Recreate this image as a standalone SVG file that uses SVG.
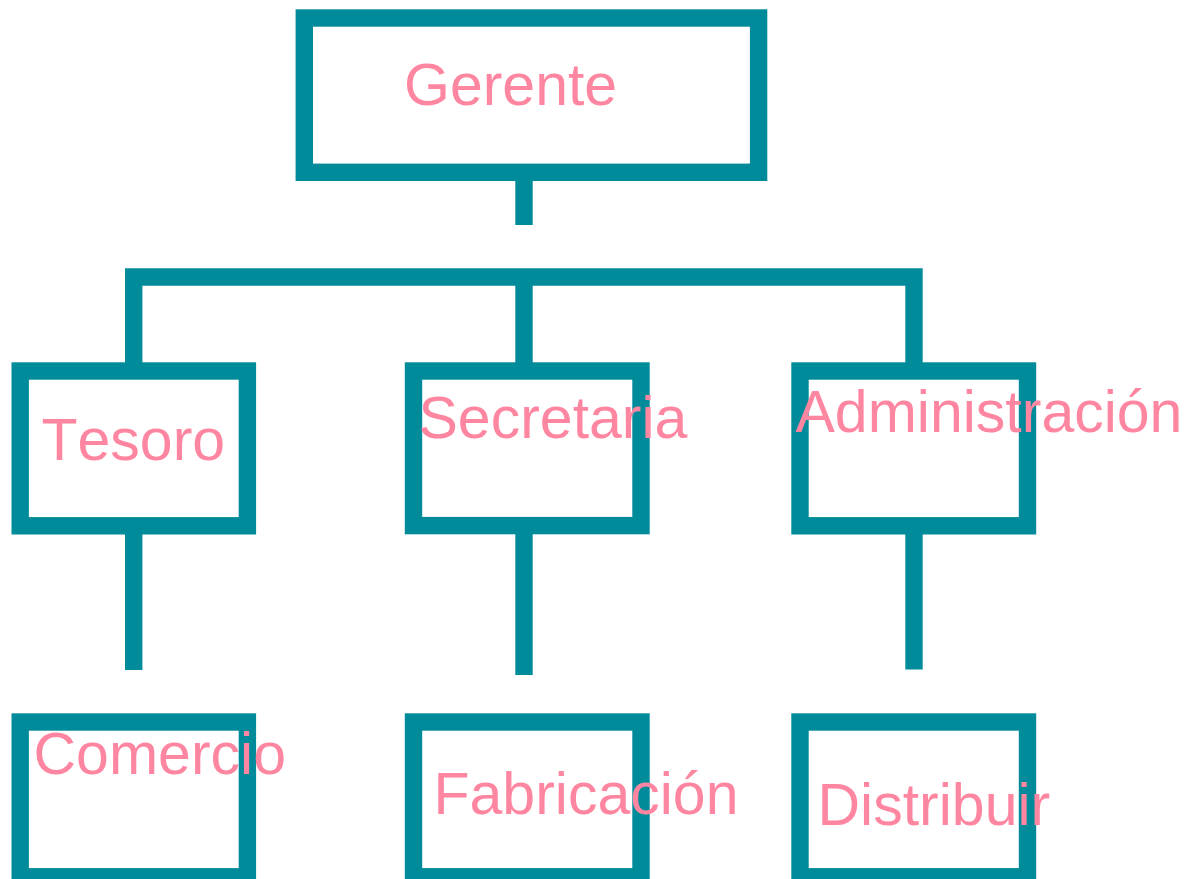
<svg xmlns="http://www.w3.org/2000/svg" width="1194" height="879" viewBox="0 0 1194 879">
<style>
.box{fill:#ffffff;stroke:#008B9B;stroke-width:17.4}
.ln{fill:none;stroke:#008B9B;stroke-width:17.4;stroke-linecap:butt;stroke-linejoin:miter}
.lbl{font-family:"Liberation Sans",Arial,sans-serif;font-size:59px;fill:#FF86A0;font-kerning:none}
</style>
<rect width="1194" height="879" fill="#ffffff"/>
<g id="connectors">
<line class="ln" x1="524" y1="172" x2="524" y2="225"/>
<path class="ln" d="M133.7 371 V277 H914 V371"/>
<line class="ln" x1="524" y1="277" x2="524" y2="371"/>
<line class="ln" x1="133.7" y1="525" x2="133.7" y2="670"/>
<line class="ln" x1="524" y1="525" x2="524" y2="675"/>
<line class="ln" x1="914" y1="525" x2="914" y2="669.5"/>
</g>
<g id="gerente">
<rect class="box" x="304.3" y="18" width="454.3" height="154.3"/>
<text class="lbl" x="404" y="105">Gerente</text>
</g>
<g id="tesoro">
<rect class="box" x="20.2" y="371" width="227.2" height="154.8"/>
<text class="lbl" x="41.5" y="460">Tesoro</text>
</g>
<g id="secretaria">
<rect class="box" x="413.5" y="371" width="227.5" height="154.6"/>
<text class="lbl" x="418.5" y="438">Secretaria</text>
</g>
<g id="administracion">
<rect class="box" x="800" y="371" width="227.5" height="154.8"/>
<text class="lbl" x="795.5" y="432">Administración</text>
</g>
<g id="comercio">
<rect class="box" x="20.2" y="722" width="227.2" height="154.8"/>
<text class="lbl" x="33.5" y="774">Comercio</text>
</g>
<g id="fabricacion">
<rect class="box" x="413.5" y="722" width="227.5" height="154.8"/>
<text class="lbl" x="433.5" y="814">Fabricación</text>
</g>
<g id="distribuir">
<rect class="box" x="800" y="722" width="227.5" height="154.8"/>
<text class="lbl" x="817.5" y="825">Distribuir</text>
</g>
</svg>
